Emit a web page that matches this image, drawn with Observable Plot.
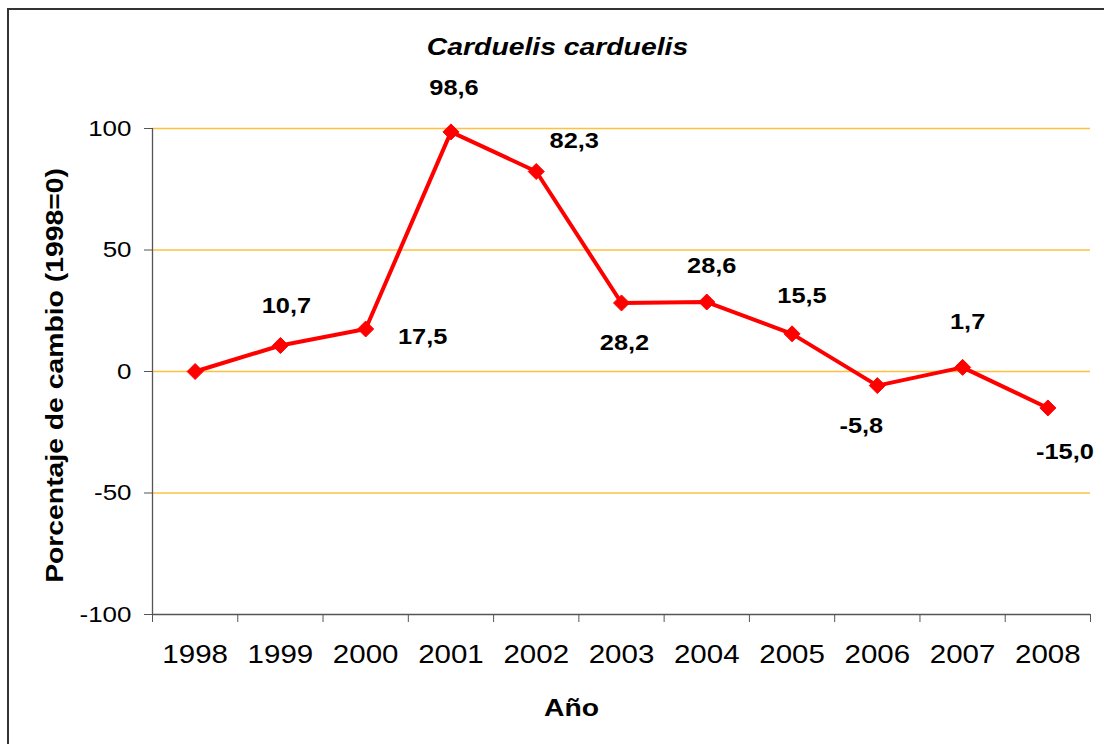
<!DOCTYPE html>
<html>
<head>
<meta charset="utf-8">
<script src="https://cdn.jsdelivr.net/npm/d3@7"></script>
<script src="https://cdn.jsdelivr.net/npm/@observablehq/plot@0.6"></script>
<style>
  html, body { margin: 0; padding: 0; background: #ffffff; }
  #wrap { position: relative; width: 1104px; height: 744px; overflow: hidden; background: #ffffff; }
  #frame { position: absolute; left: 7px; top: 8px; width: 1200px; height: 800px;
           border-left: 2px solid #333333; border-top: 2px solid #333333; }
  #chart { position: absolute; left: 0; top: 0; }
</style>
</head>
<body>
<div id="wrap"><div id="frame"></div><div id="chart"></div></div>
<script>
// ---- data ----
const years = [1998, 1999, 2000, 2001, 2002, 2003, 2004, 2005, 2006, 2007, 2008];
const values = [0, 10.7, 17.5, 98.6, 82.3, 28.2, 28.6, 15.5, -5.8, 1.7, -15.0];
const showLabel = [false, true, true, true, true, true, true, true, true, true, true];
const yTicks = [-100, -50, 0, 50, 100];
const gridValues = [-50, 0, 50, 100];
const chartTitle = "Carduelis carduelis";
const xTitle = "Año";
const yTitle = "Porcentaje de cambio (1998=0)";

// ---- layout (pixel offsets of value labels from their points) ----
const labelOffsets = [[0, 0], [6, -39], [57, 8], [3, -44], [38, -30], [3, 40], [5, -36], [10, -38], [-16, 41], [5, -45], [17, 44]];

const fmt = v => v.toFixed(1).replace(".", ",");
const data = years.map((year, i) => ({year, value: values[i], label: fmt(values[i])}));
const boundaries = [years[0] - 0.5, ...years.map(y => y + 0.5)];

const diamond = {
  draw(context, size) {
    const r = Math.sqrt(size / Math.PI);
    context.moveTo(0, -r); context.lineTo(r, 0); context.lineTo(0, r); context.lineTo(-r, 0); context.closePath();
  }
};

const labelMarks = data
  .map((d, i) => showLabel[i] ? Plot.text([d], {
    x: "year", y: "value", text: "label",
    dx: labelOffsets[i][0], dy: labelOffsets[i][1],
    fontSize: 21.5, fontWeight: "bold", fill: "#000000", lineAnchor: "middle"
  }) : null)
  .filter(m => m);

const chart = Plot.plot({
  width: 1104,
  height: 744,
  marginLeft: 152,
  marginRight: 14,
  marginTop: 128,
  marginBottom: 130,
  style: {fontFamily: "'Liberation Sans', Arial, sans-serif", background: "transparent", color: "#000000"},
  x: {type: "linear", domain: [boundaries[0], boundaries[boundaries.length - 1]]},
  y: {domain: [-100, 100]},
  marks: [
    Plot.ruleY(gridValues, {stroke: "#FFC040", strokeWidth: 1.3}),
    Plot.ruleX([boundaries[0]], {stroke: "#555555", strokeWidth: 1.3}),
    Plot.ruleY([-100], {stroke: "#555555", strokeWidth: 1.3}),
    Plot.axisY({ticks: yTicks, tickSize: 8, tickPadding: 13, tickFormat: d => String(d),
      fontSize: 22, label: null, stroke: "#555555", fill: "#000000"}),
    Plot.axisX({ticks: boundaries, tickSize: 8, tickFormat: () => "", label: null, stroke: "#555555"}),
    Plot.axisX({ticks: years, tickSize: 0, tickPadding: 31, tickFormat: d => String(d),
      fontSize: 25, label: null, fill: "#000000"}),
    Plot.line(data, {x: "year", y: "value", stroke: "#FF0000", strokeWidth: 4}),
    Plot.dot(data, {x: "year", y: "value", symbol: diamond, r: 8, fill: "#FF0000", stroke: "#FF0000", strokeWidth: 1}),
    ...labelMarks,
    Plot.text([chartTitle], {frameAnchor: "top", dx: -64, dy: -81, text: d => d, lineAnchor: "middle",
      textAnchor: "middle", fontSize: 24, fontWeight: "bold", fontStyle: "italic", fill: "#000000"}),
    Plot.text([xTitle], {frameAnchor: "bottom", dx: -50, dy: 94, text: d => d, lineAnchor: "middle",
      textAnchor: "middle", fontSize: 24, fontWeight: "bold", fill: "#000000"}),
    Plot.text([yTitle], {frameAnchor: "left", dx: -97, dy: 4, rotate: -90, text: d => d, lineAnchor: "middle",
      textAnchor: "middle", fontSize: 24, fontWeight: "bold", fill: "#000000"})
  ]
});

document.getElementById("chart").appendChild(chart);

// the reference's lettering is about 18% wider than Arial along the reading direction
const widen = 1.18;
chart.querySelectorAll("text").forEach(t => {
  const L = t.getComputedTextLength();
  if (L > 0) {
    t.setAttribute("textLength", (L * widen).toFixed(2));
    t.setAttribute("lengthAdjust", "spacingAndGlyphs");
  }
});
</script>
</body>
</html>
